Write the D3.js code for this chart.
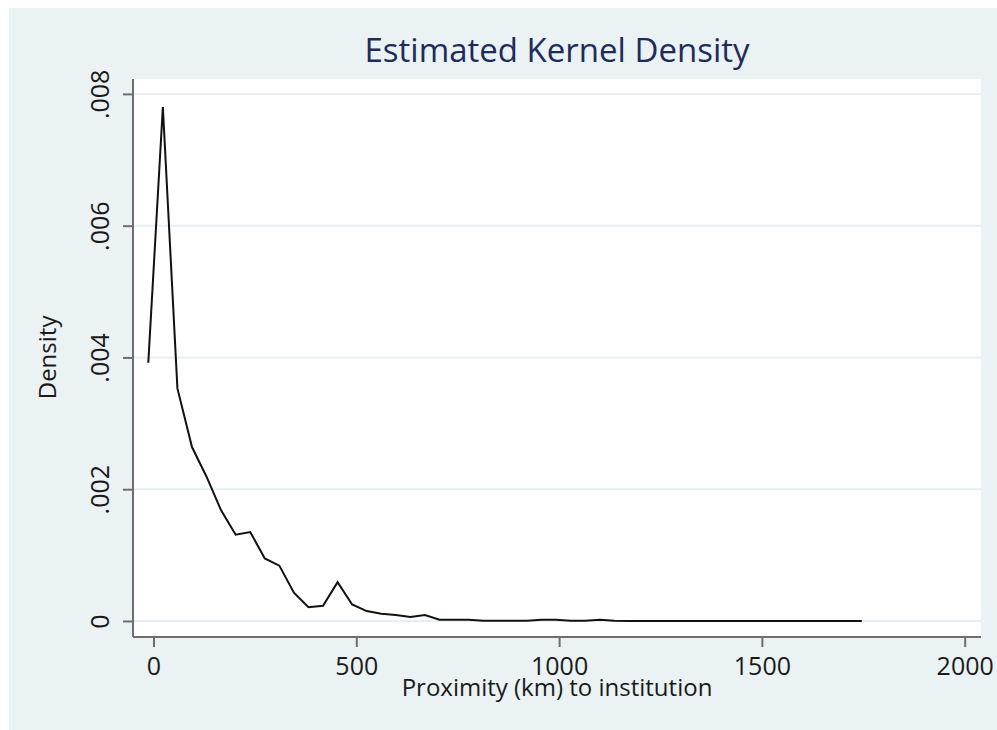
<!DOCTYPE html>
<html>
<head>
<meta charset="utf-8">
<script src="https://cdn.jsdelivr.net/npm/d3@7"></script>
<style>
  html, body { margin: 0; padding: 0; background: #ffffff; }
  svg { display: block; }
  text { font-family: "Open Sans", "Noto Sans", sans-serif; }
</style>
</head>
<body>
<svg id="chart" width="997" height="730"></svg>
<script>
// ---- data ----
const title = "Estimated Kernel Density";
const xLabel = "Proximity (km) to institution";
const yLabel = "Density";

const proximityKm = [
  -12.8, 23.1, 59.0, 94.9, 130.8, 166.7, 202.6, 238.5, 274.4, 310.3,
  346.2, 382.1, 418.0, 453.9, 489.8, 525.7, 561.6, 597.5, 633.4, 669.3,
  705.2, 741.1, 777.0, 812.9, 848.8, 884.7, 920.6, 956.5, 992.4, 1028.3,
  1064.2, 1100.1, 1136.0, 1171.9, 1207.8, 1243.7, 1279.6, 1315.5, 1351.4, 1387.3,
  1423.2, 1459.1, 1495.0, 1530.9, 1566.8, 1602.7, 1638.6, 1674.5, 1710.4, 1746.3
];
const density = [
  0.00392, 0.00780, 0.00353, 0.00264, 0.00219, 0.00168, 0.00131, 0.00135, 0.00095, 0.00084,
  0.00043, 0.00021, 0.00023, 0.00059, 0.00025, 0.00015, 0.00011, 0.00009, 0.00006, 0.00009,
  0.00002, 0.00002, 0.00002, 0.000003, 0.000003, 0.000003, 0.000003, 0.00002, 0.00002, 0.000002,
  0.000002, 0.00002, 0.000002, 0.000001, 0.000001, 0.000001, 0.000001, 0.000001, 0.000001, 0.000001,
  0.000001, 0.000001, 0.000001, 0.000001, 0.000001, 0.000001, 0.000001, 0.000001, 0.000001, 0.000001
];
const xTicks = [0, 500, 1000, 1500, 2000];
const xTickLabels = ["0", "500", "1000", "1500", "2000"];
const yTicks = [0, 0.002, 0.004, 0.006, 0.008];
const yTickLabels = ["0", ".002", ".004", ".006", ".008"];

// ---- layout ----
const W = 997, H = 730;
const plot = { left: 133, right: 981, top: 79, bottom: 637 };

const svg = d3.select("#chart");

// outer background
svg.append("rect")
  .attr("x", 9).attr("y", 8)
  .attr("width", W - 9).attr("height", H - 8)
  .attr("fill", "#eaf2f3");

// plot area
svg.append("rect")
  .attr("x", plot.left).attr("y", plot.top)
  .attr("width", plot.right - plot.left).attr("height", plot.bottom - plot.top)
  .attr("fill", "#ffffff");

const x = d3.scaleLinear().domain([-50.5, 2040.2]).range([plot.left, plot.right]);
const y = d3.scaleLinear().domain([-0.000243, 0.008226]).range([plot.bottom, plot.top]);

// grid lines
svg.append("g")
  .selectAll("line")
  .data(yTicks)
  .join("line")
  .attr("x1", plot.left).attr("x2", plot.right)
  .attr("y1", d => y(d)).attr("y2", d => y(d))
  .attr("stroke", "#e6eff1")
  .attr("stroke-width", 2);

// density line
const line = d3.line()
  .x((d, i) => x(proximityKm[i]))
  .y(d => y(d));

svg.append("path")
  .datum(density)
  .attr("d", line)
  .attr("fill", "none")
  .attr("stroke", "#111111")
  .attr("stroke-width", 2)
  .attr("stroke-linejoin", "miter");

// axes
const axisColor = "#6e6e6e";
const yAxis = d3.axisLeft(y).tickValues(yTicks).tickFormat((d, i) => yTickLabels[i]).tickSize(10).tickPadding(0);
const xAxis = d3.axisBottom(x).tickValues(xTicks).tickFormat((d, i) => xTickLabels[i]).tickSize(10).tickPadding(0);

const gy = svg.append("g").attr("transform", `translate(${plot.left},0)`).call(yAxis);
gy.select(".domain").attr("d", `M0,${plot.top}V${plot.bottom}`).attr("stroke", axisColor).attr("stroke-width", 2);
gy.selectAll(".tick line").attr("stroke", axisColor).attr("stroke-width", 2);
gy.selectAll(".tick text")
  .attr("x", null).attr("dy", null)
  .attr("transform", "translate(-24,0) rotate(-90)")
  .attr("text-anchor", "middle")
  .attr("font-size", 25)
  .attr("font-family", "'Open Sans', 'Noto Sans', sans-serif")
  .attr("fill", "#1a1a1a");

const gx = svg.append("g").attr("transform", `translate(0,${plot.bottom})`).call(xAxis);
gx.select(".domain").attr("d", `M${plot.left},0H${plot.right}`).attr("stroke", axisColor).attr("stroke-width", 2);
gx.selectAll(".tick line").attr("stroke", axisColor).attr("stroke-width", 2);
gx.selectAll(".tick text")
  .attr("y", 38).attr("dy", null)
  .attr("font-size", 25)
  .attr("font-family", "'Open Sans', 'Noto Sans', sans-serif")
  .attr("fill", "#1a1a1a");

// title
svg.append("text")
  .attr("x", (plot.left + plot.right) / 2)
  .attr("y", 62)
  .attr("text-anchor", "middle")
  .attr("font-size", 33)
  .attr("fill", "#1e2c5c")
  .text(title);

// x label
svg.append("text")
  .attr("x", (plot.left + plot.right) / 2)
  .attr("y", 696)
  .attr("text-anchor", "middle")
  .attr("font-size", 24)
  .attr("fill", "#1a1a1a")
  .text(xLabel);

// y label
svg.append("text")
  .attr("transform", `translate(56,${y(0.004)}) rotate(-90)`)
  .attr("text-anchor", "middle")
  .attr("font-size", 24)
  .attr("fill", "#1a1a1a")
  .text(yLabel);
</script>
</body>
</html>
